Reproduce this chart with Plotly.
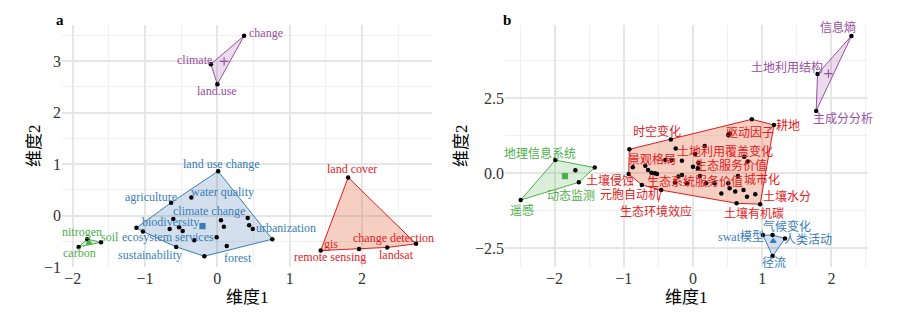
import plotly.graph_objects as go
import numpy as np

# ---------------- Panel a data ----------------
a_red_x = [1.81, 2.75, 2.35, 1.96, 1.43]
a_red_y = [0.74, -0.55, -0.62, -0.65, -0.68]
a_red_lab = ["land cover", "change detection", "landsat", "gis", "remote sensing"]

a_blue_x = [0.01, -0.64, -0.36, -1.12, -1.03, -0.61, -0.66, -0.53, -0.48, -0.32,
            -0.01, 0.05, 0.09, 0.42, 0.44, 0.49, 0.76, 0.13, -0.18, -0.57]
a_blue_y = [0.86, 0.25, 0.35, -0.24, -0.31, -0.07, -0.26, -0.23, -0.30, -0.48,
            -0.42, -0.09, -0.22, -0.05, -0.19, -0.26, -0.46, -0.59, -0.79, -0.61]
a_blue_lab = ["land use change", "agriculture", "water quality", None, None, "biodiversity",
              None, None, None, "ecosystem services", None, "climate change", None, None,
              None, None, "urbanization", "forest", None, "sustainability"]

a_green_x = [-1.80, -1.61, -1.92]
a_green_y = [-0.46, -0.52, -0.61]
a_green_lab = ["nitrogen", "soil", "carbon"]

a_purple_x = [-0.09, 0.37, 0.00]
a_purple_y = [2.94, 3.49, 2.55]
a_purple_lab = ["climate", "change", "land.use"]

# ---------------- Panel b data ----------------
b_red_x = [-0.92, -0.32, 0.85, 1.17, 0.51, 0.53, 0.17, -0.25, -0.40, -0.31, -0.16, 0.74,
           0.79, -0.87, -0.69, -0.65, -0.60, -0.55, -0.52, -0.93, -0.74, -0.46, 0.63,
           0.97, 0.03, 0.07, 0.00, -0.21, -0.16, -0.26, -0.09, 0.19, 0.31, 0.41, 0.51,
           0.65, 0.53, 0.61, 0.73, 0.78, 0.90, 0.08, 0.10]
b_red_y = [0.79, 1.12, 1.79, 1.60, 1.27, 1.32, 0.90, 0.82, 0.43, 0.43, 0.41, 0.54,
           0.38, 0.19, 0.24, 0.10, 0.01, -0.01, -0.03, -0.03, -0.40, -0.57, -1.01,
           -1.04, 0.63, 0.16, 0.21, -0.12, -0.07, -0.32, -0.34, -0.34, -0.34, -0.68, -0.34,
           -0.10, -0.51, -0.62, -0.57, -0.79, -0.71, 0.34, -0.10]
b_red_lab = [None, "时空变化", None, "耕地", "驱动因子", None, "土地利用覆盖变化", None,
             "景观格局", None, None, "生态服务价值", None, None, None, None, None, None,
             None, "土壤侵蚀", "元胞自动机", "生态环境效应", "土壤有机碳", "土壤水分",
             None, None, None, None, None, None, None, "生态系统服务价值", None, None,
             None, "城市化", None, None, None, None, None, None, None]

b_blue_x = [1.01, 1.15, 1.33, 1.15]
b_blue_y = [-2.07, -2.07, -2.18, -2.77]
b_blue_lab = ["swat模型", "气候变化", "人类活动", "径流"]

b_green_x = [-1.99, -1.42, -1.70, -1.65, -2.49]
b_green_y = [0.43, 0.18, 0.09, -0.31, -0.90]
b_green_lab = ["地理信息系统", None, None, "动态监测", "遥感"]

b_purple_x = [2.29, 1.80, 1.78]
b_purple_y = [4.57, 3.30, 2.07]
b_purple_lab = ["信息熵", "土地利用结构", "主成分分析"]

# label offsets (pixels: right, up) – repel-style placement
LABEL_SHIFT = {
    "climate": (-16, 4), "change": (22, 3), "land.use": (0, -7),
    "land use change": (3, 7), "agriculture": (-20, 6), "water quality": (31, 5),
    "climate change": (-12, 9), "biodiversity": (-3, -3), "ecosystem services": (-26, 3),
    "urbanization": (14, 11), "sustainability": (-26, -8), "forest": (11, -12),
    "nitrogen": (-5, 7), "soil": (9, 5), "carbon": (1, -6),
    "land cover": (4, 8), "gis": (-28, 5), "remote sensing": (9, -6),
    "change detection": (-23, 6), "landsat": (9, -8),
    "地理信息系统": (-15, 7), "动态监测": (-8, -14), "遥感": (1, -10),
    "信息熵": (-13, 8), "土地利用结构": (-31, 6), "主成分分析": (27, -8),
    "气候变化": (14, 9), "swat模型": (-22, -2), "人类活动": (23, -2), "径流": (1, -7),
    "时空变化": (-14, 8), "驱动因子": (22, 2), "耕地": (14, 0), "景观格局": (-13, 1),
    "土地利用覆盖变化": (20, -5), "生态服务价值": (-13, -9), "城市化": (24, -3),
    "生态系统服务价值": (-11, 2), "土壤侵蚀": (-19, -7), "元胞自动机": (-12, -10),
    "生态环境效应": (-5, -21), "土壤水分": (27, 8), "土壤有机碳": (17, -10),
}
LEADER = {"生态环境效应"}

RED, BLUE, GREEN, PURPLE = "#E41A1C", "#377EB8", "#4DAF4A", "#984EA3"
FILL = {RED: "rgba(225,105,65,0.32)", BLUE: "rgba(55,110,175,0.22)",
        GREEN: "rgba(77,175,74,0.2)", PURPLE: "rgba(152,78,163,0.2)"}
FONT = "Liberation Serif, Noto Sans CJK SC, serif"


def hull(xs, ys):
    pts = sorted(set(zip(xs, ys)))
    if len(pts) < 3:
        return pts

    def cross(o, a, b):
        return (a[0] - o[0]) * (b[1] - o[1]) - (a[1] - o[1]) * (b[0] - o[0])
    lower, upper = [], []
    for p in pts:
        while len(lower) >= 2 and cross(lower[-2], lower[-1], p) <= 0:
            lower.pop()
        lower.append(p)
    for p in reversed(pts):
        while len(upper) >= 2 and cross(upper[-2], upper[-1], p) <= 0:
            upper.pop()
        upper.append(p)
    return lower[:-1] + upper[:-1]


fig = go.Figure()
annotations = []


def add_cluster(xs, ys, labs, color, centroid_symbol, xa, ya):
    h = hull(xs, ys)
    hx = [p[0] for p in h] + [h[0][0]]
    hy = [p[1] for p in h] + [h[0][1]]
    fig.add_trace(go.Scatter(x=hx, y=hy, mode="lines", fill="toself",
                             fillcolor=FILL[color], line=dict(color=color, width=1),
                             xaxis=xa, yaxis=ya, hoverinfo="skip", showlegend=False))
    fig.add_trace(go.Scatter(x=xs, y=ys, mode="markers",
                             marker=dict(color="black", size=4.5),
                             xaxis=xa, yaxis=ya, showlegend=False))
    if centroid_symbol:
        fig.add_trace(go.Scatter(x=[float(np.mean(xs))], y=[float(np.mean(ys))], mode="markers",
                                 marker=dict(color=color, size=5 if centroid_symbol != "cross-thin" else 6,
                                             symbol=centroid_symbol,
                                             line=dict(color=color, width=1.2)),
                                 xaxis=xa, yaxis=ya, showlegend=False))
    for x, y, lab in zip(xs, ys, labs):
        if lab is None:
            continue
        dx, dy = LABEL_SHIFT.get(lab, (0, 0))
        f = dict(family=FONT, size=12, color=color)
        if lab in LEADER:
            annotations.append(dict(x=x, y=y, xref=xa, yref=ya, text=lab, showarrow=True,
                                    ax=dx, ay=-dy, arrowhead=0, arrowwidth=0.8,
                                    arrowcolor=color, standoff=0, font=f))
        else:
            annotations.append(dict(x=x, y=y, xref=xa, yref=ya, text=lab, showarrow=False,
                                    xshift=dx, yshift=dy, font=f))


add_cluster(a_red_x, a_red_y, a_red_lab, RED, None, "x", "y")
add_cluster(a_blue_x, a_blue_y, a_blue_lab, BLUE, "square", "x", "y")
add_cluster(a_green_x, a_green_y, a_green_lab, GREEN, "triangle-up", "x", "y")
add_cluster(a_purple_x, a_purple_y, a_purple_lab, PURPLE, "cross-thin", "x", "y")

add_cluster(b_red_x, b_red_y, b_red_lab, RED, None, "x2", "y2")
add_cluster(b_blue_x, b_blue_y, b_blue_lab, BLUE, "triangle-up", "x2", "y2")
add_cluster(b_green_x, b_green_y, b_green_lab, GREEN, "square", "x2", "y2")
add_cluster(b_purple_x, b_purple_y, b_purple_lab, PURPLE, "cross-thin", "x2", "y2")

W, H = 900, 316


def px_x(p):
    return p / W


def px_y(p):
    return 1 - p / H


grid_major = "#E6E6E6"
grid_minor = "#F0F0F0"
tickfont = dict(family=FONT, size=16, color="#333333")


def axis(domain, rng, dtick, minor, fmt=None, anchor=None):
    d = dict(domain=domain, range=rng, dtick=dtick, tick0=0, showgrid=True,
             gridcolor=grid_major, gridwidth=1.6, zeroline=False, showline=False,
             ticks="", tickfont=tickfont, fixedrange=True, automargin=False,
             minor=dict(dtick=minor, tick0=0, showgrid=True, gridcolor=grid_minor, gridwidth=0.9))
    if fmt:
        d["tickformat"] = fmt
    if anchor:
        d["anchor"] = anchor
    return d


ydom = [px_y(267), px_y(25)]
fig.update_layout(
    width=W, height=H, margin=dict(l=0, r=0, t=0, b=0, autoexpand=False),
    paper_bgcolor="white", plot_bgcolor="white", showlegend=False,
    xaxis=axis([px_x(62), px_x(432)], [-2.15, 2.97], 1, 0.5, anchor="y"),
    yaxis=axis(ydom, [-1.0, 3.70], 1, 0.5, anchor="x"),
    xaxis2=axis([px_x(505), px_x(868)], [-2.717, 2.529], 1, 0.5, anchor="y2"),
    yaxis2=axis(ydom, [-3.133, 4.933], 2.5, 1.25, fmt=".1f", anchor="x2"),
)

title_font = dict(family=FONT, size=17, color="black")
common = dict(xref="paper", yref="paper", showarrow=False, xanchor="center", yanchor="middle")
annotations += [
    dict(x=px_x(247), y=px_y(297), text="维度1", font=title_font, **common),
    dict(x=px_x(686), y=px_y(297), text="维度1", font=title_font, **common),
    dict(x=px_x(34), y=px_y(146), text="维度2", textangle=-90, font=title_font, **common),
    dict(x=px_x(461), y=px_y(146), text="维度2", textangle=-90, font=title_font, **common),
    dict(x=px_x(60), y=px_y(20), text="<b>a</b>",
         font=dict(family=FONT, size=15, color="black"), **common),
    dict(x=px_x(507), y=px_y(20), text="<b>b</b>",
         font=dict(family=FONT, size=15, color="black"), **common),
]
fig.update_layout(annotations=annotations)

fig.write_html("out.html")
